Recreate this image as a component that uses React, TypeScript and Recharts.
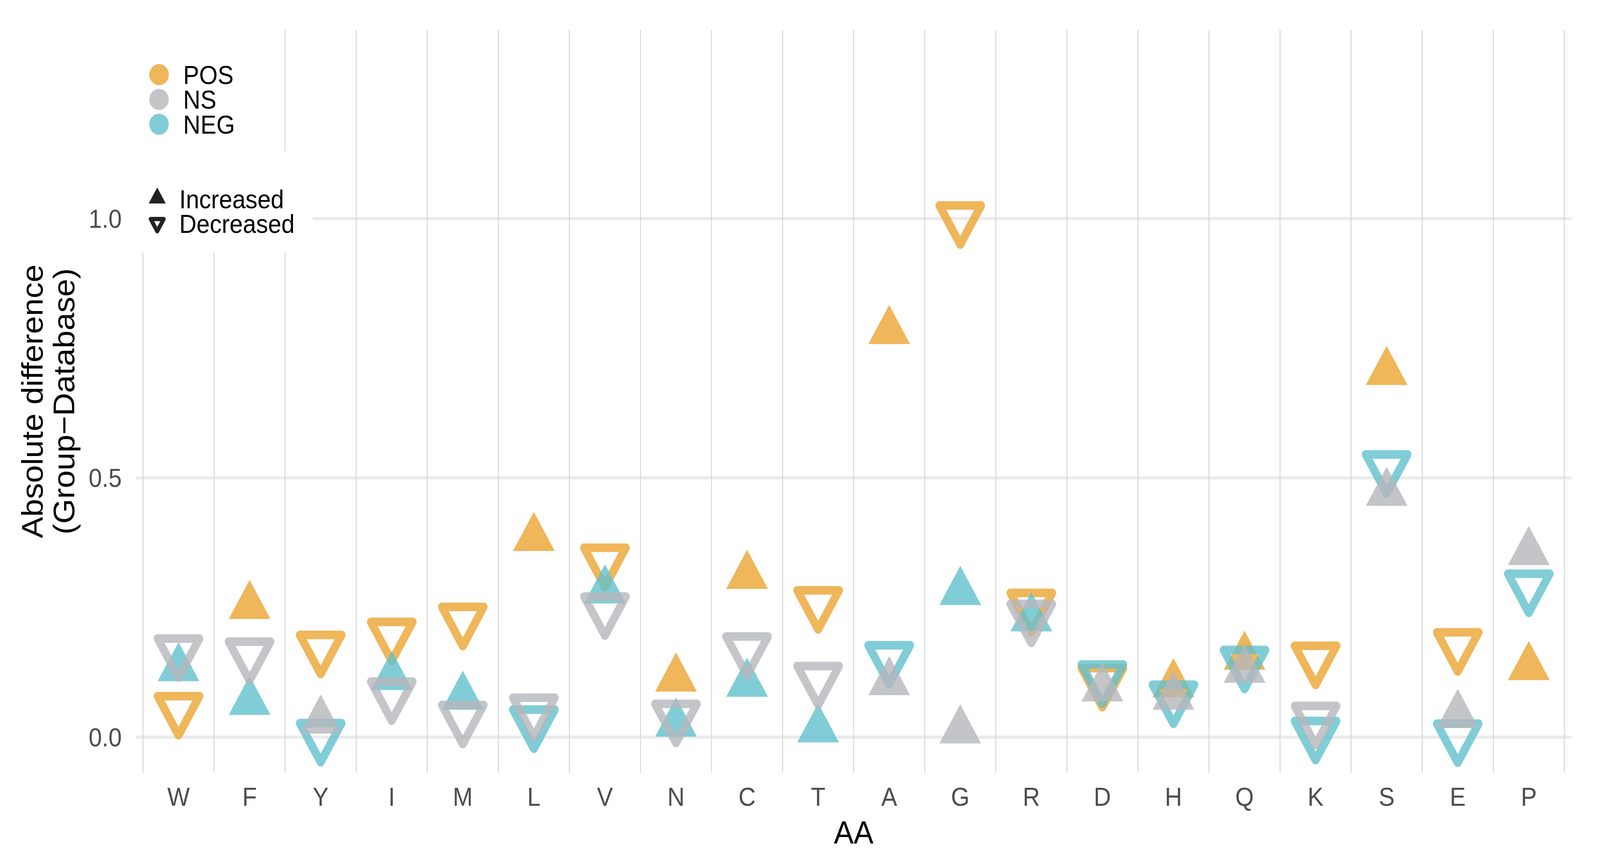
import React from 'react';
import { ScatterChart, Scatter, XAxis, YAxis, ReferenceLine } from 'recharts';

// ---------------- data ----------------
const AA = ['W', 'F', 'Y', 'I', 'M', 'L', 'V', 'N', 'C', 'T', 'A', 'G', 'R', 'D', 'H', 'Q', 'K', 'S', 'E', 'P'];

const POS_VALUES = [0.054, 0.253, 0.172, 0.197, 0.226, 0.384, 0.340, 0.113, 0.311, 0.258, 0.783, 1.0, 0.253, 0.108, 0.102, 0.155, 0.151, 0.704, 0.177, 0.135];
const POS_DIRECTION = ['Decreased', 'Increased', 'Decreased', 'Decreased', 'Decreased', 'Increased', 'Decreased', 'Increased', 'Increased', 'Decreased', 'Increased', 'Decreased', 'Decreased', 'Decreased', 'Increased', 'Increased', 'Decreased', 'Increased', 'Decreased', 'Increased'];

const NS_VALUES = [0.165, 0.159, 0.032, 0.082, 0.037, 0.051, 0.246, 0.039, 0.169, 0.112, 0.106, 0.013, 0.232, 0.094, 0.078, 0.130, 0.035, 0.471, 0.043, 0.357];
const NS_DIRECTION = ['Decreased', 'Decreased', 'Increased', 'Decreased', 'Decreased', 'Decreased', 'Decreased', 'Decreased', 'Decreased', 'Decreased', 'Increased', 'Increased', 'Decreased', 'Increased', 'Increased', 'Increased', 'Decreased', 'Increased', 'Increased', 'Increased'];

const NEG_VALUES = [0.133, 0.068, 0.002, 0.116, 0.078, 0.028, 0.283, 0.026, 0.103, 0.015, 0.152, 0.280, 0.229, 0.115, 0.076, 0.143, 0.006, 0.520, 0.001, 0.290];
const NEG_DIRECTION = ['Increased', 'Increased', 'Decreased', 'Increased', 'Increased', 'Decreased', 'Increased', 'Increased', 'Increased', 'Increased', 'Decreased', 'Increased', 'Increased', 'Decreased', 'Decreased', 'Decreased', 'Decreased', 'Decreased', 'Decreased', 'Decreased'];

const GROUPS = ['POS', 'NS', 'NEG'];
const DIRECTIONS = ['Increased', 'Decreased'];
const Y_TICKS = [0, 0.5, 1.0];
const Y_DOMAIN = [-0.069, 1.364];
const X_AXIS_TITLE = 'AA';
const Y_AXIS_TITLE = ['Absolute difference', '(Group\u2212Database)'];

// ---------------- styles ----------------
const COLORS: Record<string, string> = { POS: '#EBA431', NS: '#B5B7BC', NEG: '#60C1CD' };
const ALPHA = 0.8;
const FONT = '"Liberation Sans", Arial, Helvetica, sans-serif';
const W = 4427;
const H = 2211;

const buildSeries = (values: number[], dirs: string[]) =>
  AA.map((aa, i) => ({ x: i + 1, aa, y: values[i], direction: dirs[i] }));

const posData = buildSeries(POS_VALUES, POS_DIRECTION);
const nsData = buildSeries(NS_VALUES, NS_DIRECTION);
const negData = buildSeries(NEG_VALUES, NEG_DIRECTION);

const X_TICKS = AA.map((_, i) => i + 1);
const BOUNDARIES = [...AA.map((_, i) => i + 0.5), AA.length + 0.5];

const R = 66.7;
const STROKE = 22;

const makeShape = (color: string) => (props: any) => {
  const { cx, cy, payload } = props;
  if (cx == null || cy == null || !payload) return <g />;
  const hw = (R * Math.sqrt(3)) / 2;
  if (payload.direction === 'Increased') {
    const pts = `${cx},${cy - R} ${cx + hw},${cy + R / 2} ${cx - hw},${cy + R / 2}`;
    return <polygon points={pts} fill={color} fillOpacity={ALPHA} />;
  }
  const pts = `${cx},${cy + R} ${cx + hw},${cy - R / 2} ${cx - hw},${cy - R / 2}`;
  return (
    <polygon
      points={pts}
      fill="none"
      stroke={color}
      strokeOpacity={ALPHA}
      strokeWidth={STROKE}
      strokeLinejoin="round"
    />
  );
};

const triUp = (cx: number, cy: number, r: number) => {
  const hw = (r * Math.sqrt(3)) / 2;
  return `${cx},${cy - r} ${cx + hw},${cy + r / 2} ${cx - hw},${cy + r / 2}`;
};
const triDown = (cx: number, cy: number, r: number) => {
  const hw = (r * Math.sqrt(3)) / 2;
  return `${cx},${cy + r} ${cx + hw},${cy - r / 2} ${cx - hw},${cy - r / 2}`;
};

const Overlay = () => (
  <svg
    width={W}
    height={H}
    style={{ position: 'absolute', left: 0, top: 0, pointerEvents: 'none' }}
  >
    {/* legend backgrounds */}
    <rect x={372} y={60} width={328} height={327} fill="#ffffff" />
    <rect x={372} y={387} width={494} height={260} fill="#ffffff" />
    {/* colour legend */}
    {GROUPS.map((g, i) => (
      <g key={g}>
        <circle cx={440} cy={191 + i * 63.5} r={27} fill={COLORS[g]} fillOpacity={ALPHA} />
        <text x={507} y={215 + i * 63.5} fontSize={66} fontFamily={FONT} fill="#000">
          {g}
        </text>
      </g>
    ))}
    {/* shape legend */}
    <polygon points={triUp(435, 507, 27.3)} fill="#222" />
    <polygon
      points={triDown(435, 571, 20.8)}
      fill="none"
      stroke="#222"
      strokeWidth={11}
      strokeLinejoin="round"
    />
    <text x={496} y={533} fontSize={66} fontFamily={FONT} fill="#000">
      {DIRECTIONS[0]}
    </text>
    <text x={496} y={596} fontSize={66} fontFamily={FONT} fill="#000">
      {DIRECTIONS[1]}
    </text>
    {/* axis titles */}
    <text x={2362} y={2158} fontSize={82} fontFamily={FONT} fill="#000" textAnchor="middle">
      {X_AXIS_TITLE}
    </text>
    <text transform="rotate(-90)" x={-1027} y={118} fontSize={82} fontFamily={FONT} fill="#000" textAnchor="middle">
      {Y_AXIS_TITLE[0]}
    </text>
    <text transform="rotate(-90)" x={-1027} y={205} fontSize={82} fontFamily={FONT} fill="#000" textAnchor="middle">
      {Y_AXIS_TITLE[1]}
    </text>
  </svg>
);

export default function App() {
  // the capture area may be narrower than the design width; fit horizontally
  const vw = typeof window !== 'undefined' && window.innerWidth ? window.innerWidth : W;
  const sx = Math.min(1, vw / W);
  return (
    <div
      style={{
        position: 'absolute',
        left: 0,
        top: 0,
        width: Math.round(W * sx),
        height: H,
        overflow: 'hidden',
        background: '#ffffff',
      }}
    >
      <div
        style={{
          position: 'absolute',
          left: 0,
          top: 0,
          width: W,
          height: H,
          background: '#ffffff',
          fontFamily: FONT,
          transform: `scaleX(${sx})`,
          transformOrigin: '0 0',
        }}
      >
        <ScatterChart width={W} height={H} margin={{ top: 76, right: 79, bottom: 0, left: 0 }}>
          {Y_TICKS.map((t) => (
            <ReferenceLine key={'h' + t} y={t} stroke="#EBEBEB" strokeWidth={8} />
          ))}
          {BOUNDARIES.map((b) => (
            <ReferenceLine key={'v' + b} x={b} stroke="#D5D5D5" strokeWidth={2.5} />
          ))}
          <XAxis
            type="number"
            dataKey="x"
            domain={[0.4, 20.6]}
            ticks={X_TICKS}
            interval={0}
            allowDataOverflow
            tickFormatter={(v: number) => AA[v - 1]}
            height={233}
            axisLine={false}
            tickLine={false}
            tickSize={0}
            tickMargin={37}
            tick={{ fill: '#4D4D4D', fontSize: 66, fontFamily: FONT }}
          />
          <YAxis
            type="number"
            dataKey="y"
            domain={Y_DOMAIN}
            ticks={Y_TICKS}
            allowDataOverflow
            tickFormatter={(v: number) => v.toFixed(1)}
            width={376}
            axisLine={false}
            tickLine={false}
            tickSize={0}
            tickMargin={39}
            tick={{ fill: '#4D4D4D', fontSize: 66, fontFamily: FONT }}
          />
          <Scatter name="POS" data={posData} shape={makeShape(COLORS.POS)} isAnimationActive={false} />
          <Scatter name="NEG" data={negData} shape={makeShape(COLORS.NEG)} isAnimationActive={false} />
          <Scatter name="NS" data={nsData} shape={makeShape(COLORS.NS)} isAnimationActive={false} />
        </ScatterChart>
        <Overlay />
      </div>
    </div>
  );
}
